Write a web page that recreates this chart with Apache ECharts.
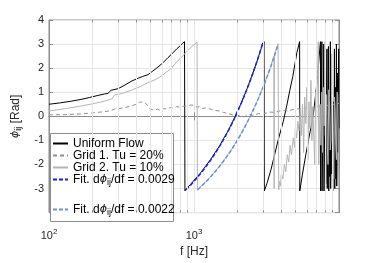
<!DOCTYPE html>
<html><head><meta charset="utf-8">
<script src="https://cdn.jsdelivr.net/npm/echarts@6/dist/echarts.min.js"></script>
<style>html,body{margin:0;padding:0;background:#fff}#c{width:374px;height:263px}</style>
</head><body><div id="c"></div>
<script>
// ---- data ----
const uniformF = [100,120,140,166,190,215,242,255,268,300,330,368,400,440,482,520,565,610,662,700,760,800,830,860,866,890,950,1000,1100,1200,1300,1400,1500,1600,1700,1800,1900,2000,2100,2200,2300,2400,2500,2600,2700,2800,2900,2980,3010,3040,3055,3200,3400,3540,3800,4130,4400,4580,4800,5120,5300,5350,5365,5600,5900,6200,6640,6900,7100,7300,7450,7465,7520,7580,7620,7640,7720,7800,7860,7880,7960,8050,8100,8180,8260,8300,8380,8460,8500,8580,8640,8720,8760,8850,8920,9000,9050,9150,9220,9300,9350,9450,9520,9600,9650,9750,9850,9950,10000];
const uniformPhi = [0.50,0.56,0.62,0.70,0.78,0.86,0.93,0.95,1.08,1.15,1.28,1.45,1.55,1.65,1.73,1.88,2.05,2.22,2.44,2.58,2.80,2.92,3.02,3.10,-3.10,-2.99,-2.82,-2.66,-2.38,-2.08,-1.80,-1.50,-1.24,-0.92,-0.66,-0.36,-0.08,0.24,0.50,0.80,1.08,1.38,1.66,1.95,2.22,2.52,2.80,3.05,2.95,3.10,-3.10,-2.75,-2.20,-1.77,-1.00,-0.21,0.55,1.08,1.65,2.64,3.00,3.10,-3.10,-2.40,-1.60,-0.90,0.04,0.90,1.60,2.50,3.10,-3.10,-1.00,1.50,3.10,-3.10,-1.20,0.80,3.00,-3.10,-0.60,2.00,-2.80,0.20,2.80,-3.00,-0.40,2.90,-3.10,0.80,-2.50,3.10,-3.00,1.00,-2.40,2.60,-3.10,0.60,-2.20,2.80,-3.00,1.20,-2.60,3.00,-2.90,1.80,-1.50,2.80,-0.50];

const grid1F = [100,130,167,200,230,260,284,320,370,400,420,440,460,480,500,515,530,560,590,620,650,680,720,760,800,850,900,950,1000,1050,1100,1150,1200,1300,1400,1500,1600,1700,1800,1900,2000,2200,2400,2600,2800,3000,3300,3600,4000,4500,5000,5500,6000,6500,7000,7500,8000,8500,9000,9500,10000];
const grid1Phi = [0.06,0.07,0.10,0.14,0.18,0.22,0.30,0.34,0.43,0.50,0.58,0.60,0.55,0.45,0.30,0.22,0.26,0.30,0.24,0.32,0.30,0.36,0.34,0.40,0.38,0.42,0.42,0.47,0.45,0.38,0.40,0.32,0.35,0.30,0.24,0.22,0.16,0.12,0.08,0.04,0.04,-0.02,0.06,0.04,0.12,0.10,0.18,0.16,0.24,0.22,0.32,0.30,0.36,0.34,0.42,0.40,0.46,0.44,0.50,0.48,0.54];

const grid2F = [100,130,167,200,242,270,284,320,370,420,482,540,595,650,698,755,800,850,888,940,990,1050,1056,1100,1200,1300,1400,1500,1600,1700,1800,1900,2000,2200,2400,2600,2800,3000,3200,3400,3550,3570,3590,3800,3840,3900,3950,4000,4100,4200,4300,4400,4500,4600,4700,4840,4950,5000,5100,5200,5300,5400,5500,5600,5700,5800,5900,6000,6100,6200,6300,6400,6500,6600,6800,6900,7000,7100,7200,7250,7400,7500,7600,7700,7800,7900,8000,8050,8200,8300,8400,8500,8600,8700,8800,8900,9000,9100,9200,9300,9400,9500,9600,9700,9800,9900,10000];
const grid2Phi = [0.22,0.32,0.43,0.52,0.63,0.72,0.89,0.95,1.08,1.22,1.40,1.52,1.67,1.85,1.99,2.25,2.38,2.55,2.70,2.82,2.96,3.08,-3.08,-2.95,-2.72,-2.52,-2.28,-2.06,-1.84,-1.62,-1.40,-1.18,-0.96,-0.52,-0.08,0.36,0.78,1.24,1.66,2.12,2.50,-3.00,2.60,3.02,-3.05,-2.70,-2.90,-2.40,-2.60,-2.00,-2.30,-1.60,-1.90,-1.20,-1.60,-0.90,-1.30,-0.50,-0.90,-0.20,-0.60,0.30,-0.80,0.50,-1.50,0.80,-0.30,1.20,-1.80,0.60,-0.50,1.50,-1.00,0.40,-2.00,1.00,-0.60,1.60,3.10,-2.00,0.50,-1.20,1.00,-1.50,1.20,-0.40,3.10,-0.80,0.90,-1.20,-2.00,1.10,0.60,-1.40,-1.00,1.40,1.30,-0.50,-2.60,0.80,0.40,-1.20,-1.80,1.00,0.90,-1.60,-2.90];

const fit1F = [880,950,1000,1100,1200,1300,1400,1500,1600,1700,1800,1900,2000,2100,2200,2300,2400,2500,2600,2700,2800,2900,2980];
const fit1Phi = [-3.05,-2.85,-2.70,-2.41,-2.12,-1.83,-1.54,-1.25,-0.96,-0.67,-0.38,-0.09,0.20,0.49,0.78,1.07,1.36,1.65,1.94,2.23,2.52,2.81,3.04];

const fit2F = [1060,1100,1200,1300,1400,1500,1600,1700,1800,1900,2000,2200,2400,2600,2800,3000,3200,3400,3600,3800];
const fit2Phi = [-3.05,-2.96,-2.74,-2.52,-2.30,-2.08,-1.86,-1.64,-1.42,-1.20,-0.98,-0.54,-0.10,0.34,0.78,1.22,1.66,2.10,2.54,2.98];

const minorGridF = [200,300,400,500,600,700,800,900,2000,3000,4000,5000,6000,7000,8000,9000];

const seriesNames = ['Uniform Flow','Grid 1. Tu = 20%','Grid 2. Tu = 10%','Fit. dϕij/df = 0.0029','Fit. dϕij/df = 0.0022'];
// ---------------------------------------

const Y_MIN = -4, Y_MAX = 4, MINOR_TICK = 0.1;
const pair = (xs, ys) => xs.map((x, i) => [x, ys[i]]);
const FONT = 'Liberation Sans, Arial, Helvetica, sans-serif';
const PHIFONT = 'DejaVu Sans, sans-serif';
const AX = '#8c8c8c';
const GRIDC = '#e6e6e6';

const legendRich = {
  t: {fontSize: 12, lineHeight: 15, color: '#000', fontFamily: FONT},
  p: {fontSize: 11, lineHeight: 15, color: '#000', fontStyle: 'italic', fontFamily: PHIFONT},
  s: {fontSize: 9, lineHeight: 8, color: '#000', verticalAlign: 'bottom', fontFamily: FONT}
};
function legendFmt(name) {
  if (name.indexOf('Fit') === 0) {
    const v = name.split('= ')[1];
    return '{t|Fit. d}{p|ϕ}{s|ij}{t|/df = ' + v + '}';
  }
  return '{t|' + name + '}';
}
const legendCommon = {
  orient: 'vertical', left: 52, padding: 0, itemGap: 0, itemWidth: 15, itemHeight: 15, z: 6,
  itemStyle: {opacity: 0, borderWidth: 0},
  formatter: legendFmt,
  textStyle: {fontSize: 12, color: '#000', fontFamily: FONT, rich: legendRich}
};

const minorTickData = [];
minorGridF.forEach(v => {
  minorTickData.push([{coord: [v, Y_MIN]}, {coord: [v, Y_MIN + MINOR_TICK]}]);
  minorTickData.push([{coord: [v, Y_MAX]}, {coord: [v, Y_MAX - MINOR_TICK]}]);
});

const chart = echarts.init(document.getElementById('c'), null, {renderer: 'canvas'});
chart.setOption({
  animation: false,
  backgroundColor: '#fff',
  textStyle: {fontFamily: FONT},
  grid: {left: 49, right: 35, top: 20, bottom: 40, show: true, borderColor: AX, borderWidth: 1, backgroundColor: 'transparent'},
  xAxis: [{
    type: 'log', logBase: 10, min: 100, max: 10000, position: 'bottom',
    name: 'f [Hz]', nameLocation: 'middle', nameGap: 23,
    nameTextStyle: {fontSize: 12, color: '#262626', fontFamily: FONT},
    axisLine: {show: true, lineStyle: {color: AX}},
    axisTick: {show: true, inside: true, length: 4, lineStyle: {color: AX}},
    axisLabel: {
      margin: 15, color: '#262626',
      formatter: function (v) {
        const e = Math.round(Math.log10(v));
        if (e >= 4) return '';
        return '{b|10}{e|' + e + '}';
      },
      rich: {
        b: {fontSize: 11, lineHeight: 16, color: '#262626', fontFamily: FONT},
        e: {fontSize: 8, lineHeight: 10, verticalAlign: 'top', color: '#262626', fontFamily: FONT}
      }
    },
    splitLine: {show: true, lineStyle: {color: GRIDC, width: 1}}
  }, {
    type: 'log', logBase: 10, min: 100, max: 10000, position: 'top',
    axisLine: {show: true, lineStyle: {color: AX}},
    axisTick: {show: true, inside: true, length: 4, lineStyle: {color: AX}},
    axisLabel: {show: false}, splitLine: {show: false}
  }],
  yAxis: [{
    type: 'value', min: Y_MIN, max: Y_MAX, interval: 1, position: 'left',
    name: '{p|ϕ}{s|ij}{t| [Rad]}', nameLocation: 'middle', nameGap: 16,
    nameTextStyle: {
      color: '#262626',
      rich: {
        t: {fontSize: 12, lineHeight: 16, color: '#262626', fontFamily: FONT},
        p: {fontSize: 11, lineHeight: 16, color: '#262626', fontStyle: 'italic', fontFamily: PHIFONT},
        s: {fontSize: 9, lineHeight: 9, verticalAlign: 'bottom', color: '#262626', fontFamily: FONT}
      }
    },
    axisLine: {show: true, lineStyle: {color: AX}},
    axisTick: {show: true, inside: true, length: 4, lineStyle: {color: AX}},
    axisLabel: {
      margin: 5, fontSize: 11, color: '#262626', fontFamily: FONT,
      formatter: function (v) { return v === -4 ? '' : String(v); }
    },
    splitLine: {show: true, lineStyle: {color: GRIDC, width: 1}}
  }, {
    type: 'value', min: Y_MIN, max: Y_MAX, interval: 1, position: 'right',
    axisLine: {show: true, lineStyle: {color: AX}},
    axisTick: {show: true, inside: true, length: 4, lineStyle: {color: AX}},
    axisLabel: {show: false}, splitLine: {show: false}
  }],
  legend: [
    Object.assign({}, legendCommon, {data: seriesNames.slice(0, 4), top: 137.5}),
    Object.assign({}, legendCommon, {data: seriesNames.slice(4), top: 203.5})
  ],
  graphic: [{
    type: 'rect', z: 5, silent: true,
    shape: {x: 50.5, y: 133.5, width: 123, height: 88},
    style: {fill: '#fff', stroke: AX, lineWidth: 1}
  }],
  series: [{
    name: '_minor', type: 'line', data: [], z: 0, silent: true,
    markLine: {silent: true, symbol: 'none', label: {show: false},
      lineStyle: {color: GRIDC, type: 'solid', width: 1},
      data: minorGridF.map(v => ({xAxis: v}))}
  }, {
    name: '_minorTicks', type: 'line', data: [], z: 4, silent: true,
    markLine: {silent: true, symbol: 'none', label: {show: false},
      lineStyle: {color: AX, type: 'solid', width: 1},
      data: minorTickData}
  }, {
    name: seriesNames[0], type: 'line', data: pair(uniformF, uniformPhi),
    showSymbol: false, symbol: 'none', lineStyle: {color: '#000', width: 1}, itemStyle: {color: '#000'}, z: 2
  }, {
    name: seriesNames[1], type: 'line', data: pair(grid1F, grid1Phi),
    showSymbol: false, symbol: 'none', lineStyle: {color: '#8f8f8f', width: 1, type: [4, 3]}, itemStyle: {color: '#8f8f8f'}, z: 2
  }, {
    name: seriesNames[2], type: 'line', data: pair(grid2F, grid2Phi),
    showSymbol: false, symbol: 'none', lineStyle: {color: '#b4b4b4', width: 1}, itemStyle: {color: '#b4b4b4'}, z: 2
  }, {
    name: seriesNames[3], type: 'line', data: pair(fit1F, fit1Phi),
    showSymbol: false, symbol: 'none', lineStyle: {color: '#1a1aff', width: 1.5, type: [4, 2]}, itemStyle: {color: '#1a1aff'}, z: 3
  }, {
    name: seriesNames[4], type: 'line', data: pair(fit2F, fit2Phi),
    showSymbol: false, symbol: 'none', lineStyle: {color: '#6f8fd6', width: 1.5, type: [4, 2]}, itemStyle: {color: '#6f8fd6'}, z: 3
  }]
});
</script></body></html>
